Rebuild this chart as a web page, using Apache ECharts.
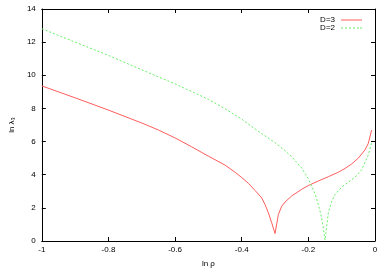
<!DOCTYPE html>
<html>
<head>
<meta charset="utf-8">
<script src="https://cdn.jsdelivr.net/npm/echarts@6/dist/echarts.min.js"></script>
<style>html,body{margin:0;padding:0;background:#fff}#c{width:389px;height:273px}</style>
</head>
<body>
<div id="c"></div>
<script>
const xTicks = [-1, -0.8, -0.6, -0.4, -0.2, 0];
const yTicks = [0, 2, 4, 6, 8, 10, 12, 14];

const xD3 = [-1, -0.9, -0.8, -0.7, -0.65, -0.6, -0.55, -0.5, -0.45, -0.42, -0.4, -0.38, -0.36, -0.34, -0.33, -0.32, -0.31, -0.3, -0.29, -0.28, -0.27, -0.25, -0.22, -0.2, -0.17, -0.14, -0.11, -0.09, -0.07, -0.05, -0.03, -0.02, -0.01];
const yD3 = [9.36, 8.64, 7.9, 7.12, 6.7, 6.22, 5.68, 5.12, 4.58, 4.15, 3.83, 3.48, 3.05, 2.6, 2.2, 1.7, 1.1, 0.45, 1.6, 2.1, 2.35, 2.72, 3.12, 3.35, 3.62, 3.88, 4.15, 4.38, 4.65, 5.0, 5.5, 5.9, 6.7];

const xD2 = [-1, -0.9, -0.8, -0.7, -0.6, -0.5, -0.45, -0.4, -0.35, -0.3, -0.27, -0.25, -0.22, -0.2, -0.18, -0.17, -0.16, -0.15, -0.14, -0.13, -0.12, -0.1, -0.08, -0.06, -0.04, -0.03, -0.02, -0.01];
const yD2 = [12.81, 12.0, 11.2, 10.33, 9.48, 8.55, 7.98, 7.35, 6.62, 5.93, 5.45, 5.08, 4.4, 3.75, 2.85, 2.2, 1.4, 0.05, 1.7, 2.4, 2.8, 3.25, 3.55, 3.85, 4.3, 4.75, 5.2, 5.95];

const seriesNames = ['D=3', 'D=2'];

const pairs = (xs, ys) => xs.map((x, i) => [x, ys[i]]);
const font = 'Liberation Sans, Arial, sans-serif';
const fmtX = v => { const t = xTicks.find(k => Math.abs(k - v) < 1e-6); return t === undefined ? '' : String(t); };

const chart = echarts.init(document.getElementById('c'), null, {renderer: 'canvas'});
const axisLine = {show: true, onZero: false, lineStyle: {color: '#000', width: 1}};
const tick = {show: true, inside: true, length: 4, lineStyle: {color: '#000'}};
const red = '#ff5c5c', green = '#66ee66';
const solidIcon = 'path://M0,0h21v1h-21z';
const dashIcon = 'path://M0,0h2v1h-2zM4,0h2v1h-2zM8,0h2v1h-2zM12,0h2v1h-2zM16,0h2v1h-2zM19,0h2v1h-2z';
chart.setOption({
  animation: false,
  backgroundColor: '#fff',
  grid: {left: 32, right: 14, top: 9, bottom: 25, containLabel: false},
  legend: {
    orient: 'vertical', right: 22, top: 11, itemWidth: 21, itemHeight: 1, itemGap: 0,
    align: 'right',
    textStyle: {fontSize: 8, fontFamily: font, color: '#000', padding: [0, 1, 0, 0], lineHeight: 8},
    data: [{name: seriesNames[0], icon: solidIcon}, {name: seriesNames[1], icon: dashIcon}]
  },
  xAxis: [{
    type: 'value', min: -1, max: 0, interval: 0.2, position: 'bottom',
    name: 'ln ρ', nameLocation: 'middle', nameGap: 19,
    nameTextStyle: {fontSize: 8, fontFamily: font, color: '#000'},
    axisLine, axisTick: tick, splitLine: {show: false},
    axisLabel: {fontSize: 8, fontFamily: font, color: '#000', margin: 5, formatter: fmtX}
  }, {
    type: 'value', min: -1, max: 0, interval: 0.2, position: 'top',
    axisLine, axisTick: tick, splitLine: {show: false}, axisLabel: {show: false}
  }],
  yAxis: [{
    type: 'value', min: 0, max: 14, interval: 2, position: 'left',
    name: 'ln λ₃', nameLocation: 'middle', nameGap: 24,
    nameTextStyle: {fontSize: 8, fontFamily: font, color: '#000'},
    axisLine, axisTick: tick, splitLine: {show: false},
    axisLabel: {fontSize: 8, fontFamily: font, color: '#000', margin: 6}
  }, {
    type: 'value', min: 0, max: 14, interval: 2, position: 'right',
    axisLine, axisTick: tick, splitLine: {show: false}, axisLabel: {show: false}
  }],
  series: [{
    name: seriesNames[0], type: 'line', showSymbol: false, symbol: 'none',
    data: pairs(xD3, yD3), lineStyle: {color: red, width: 1}, itemStyle: {color: red}
  }, {
    name: seriesNames[1], type: 'line', showSymbol: false, symbol: 'none',
    data: pairs(xD2, yD2), lineStyle: {color: green, width: 1, type: [2, 2]}, itemStyle: {color: green}
  }]
});
</script>
</body>
</html>
